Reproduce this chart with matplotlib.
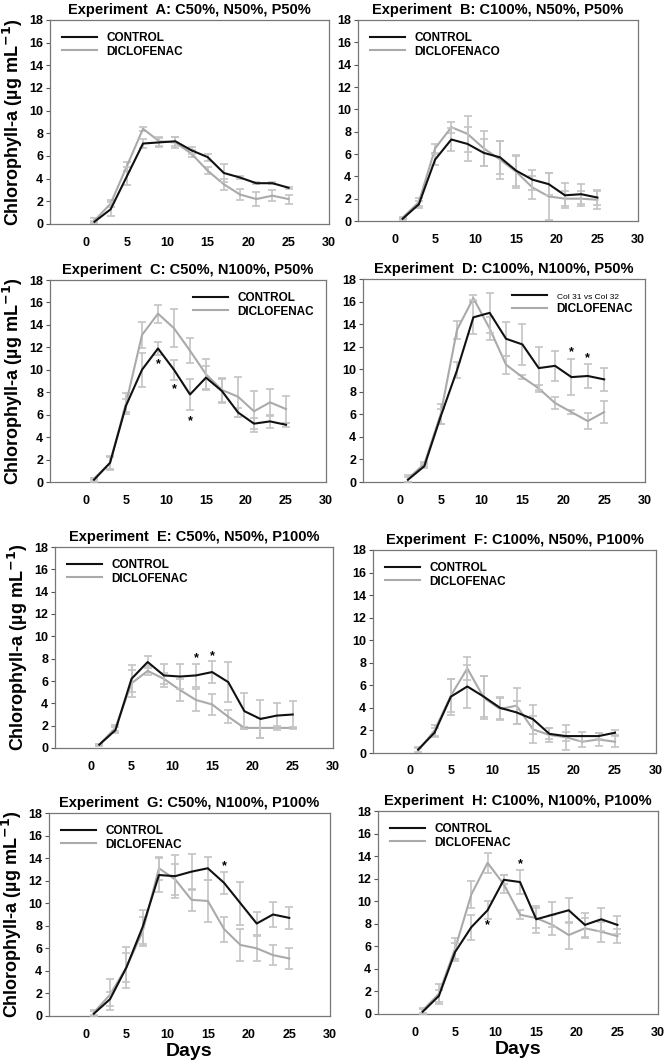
import numpy as np
import matplotlib.pyplot as plt
from matplotlib.lines import Line2D

plt.rcParams['font.family'] = ['Liberation Sans', 'DejaVu Sans']

# ---------------- data ----------------
days = [1, 3, 5, 7, 9, 11, 13, 15, 17, 19, 21, 23, 25]

titles = ['Experiment  A: C50%, N50%, P50%',
          'Experiment  B: C100%, N50%, P50%',
          'Experiment  C: C50%, N100%, P50%',
          'Experiment  D: C100%, N100%, P50%',
          'Experiment  E: C50%, N50%, P100%',
          'Experiment  F: C100%, N50%, P100%',
          'Experiment  G: C50%, N100%, P100%',
          'Experiment  H: C100%, N100%, P100%']

ctrl_labels = ['CONTROL'] * 3 + ['Col 31 vs Col 32'] + ['CONTROL'] * 4
dicl_labels = ['DICLOFENAC', 'DICLOFENACO'] + ['DICLOFENAC'] * 6

ctrl_A = [0.2, 1.3, 4.2, 7.1, 7.2, 7.3, 6.5, 5.9, 4.5, 4.1, 3.6, 3.6, 3.2]
ctrl_A_err = [0.1, 0.6, 0.8, 0.4, 0.4, 0.4, 0.3, 0.3, 0.8, 0.1, 0.1, 0.1, 0.1]
dicl_A = [0.3, 1.8, 5.1, 8.4, 7.3, 7.2, 6.2, 4.7, 3.5, 2.6, 2.2, 2.5, 2.2]
dicl_A_err = [0.2, 0.3, 0.4, 0.2, 0.4, 0.5, 0.3, 0.3, 0.5, 0.5, 0.6, 0.5, 0.4]

ctrl_B = [0.2, 1.5, 5.5, 7.3, 6.9, 6.1, 5.7, 4.5, 3.7, 3.3, 2.3, 2.4, 2.1]
ctrl_B_err = [0.1, 0.3, 0.5, 1.0, 1.5, 1.2, 1.5, 1.4, 0.9, 1.0, 1.1, 0.9, 0.7]
dicl_B = [0.3, 1.7, 6.5, 8.4, 7.8, 6.5, 5.5, 4.4, 3.0, 2.2, 2.0, 2.0, 1.9]
dicl_B_err = [0.1, 0.4, 0.4, 0.5, 1.6, 1.6, 1.7, 1.4, 1.0, 2.1, 0.7, 0.7, 0.8]

ctrl_C = [0.2, 1.7, 6.8, 10.0, 11.9, 10.0, 7.8, 9.3, 8.1, 6.2, 5.2, 5.4, 5.1]
ctrl_C_err = [0.2, 0.6, 0.6, 1.5, 0.6, 0.9, 1.4, 1.0, 1.1, 0.4, 0.5, 0.6, 0.2]
dicl_C = [0.3, 1.7, 7.0, 13.1, 15.0, 13.7, 11.7, 9.6, 8.2, 7.6, 6.3, 7.1, 6.5]
dicl_C_err = [0.1, 0.5, 0.9, 1.2, 0.8, 1.7, 1.1, 1.4, 1.1, 1.8, 1.8, 1.2, 1.2]

ctrl_D = [0.2, 1.4, 5.8, 9.9, 14.6, 15.0, 12.7, 12.2, 10.1, 10.3, 9.3, 9.4, 9.1]
ctrl_D_err = [0.2, 0.2, 0.7, 0.7, 1.5, 1.8, 1.5, 1.8, 1.9, 1.3, 1.6, 1.1, 1.0]
dicl_D = [0.3, 1.6, 6.0, 13.5, 16.3, 13.6, 10.4, 9.3, 8.3, 7.0, 6.2, 5.4, 6.2]
dicl_D_err = [0.3, 0.2, 0.9, 0.8, 0.3, 1.0, 0.8, 0.2, 0.3, 0.5, 0.2, 0.7, 1.0]

ctrl_E = [0.3, 1.6, 6.2, 7.7, 6.5, 6.4, 6.5, 6.8, 5.9, 3.3, 2.6, 2.9, 3.0]
ctrl_E_err = [0.1, 0.3, 1.2, 0.5, 1.0, 1.1, 1.0, 1.0, 1.8, 1.6, 1.7, 1.1, 1.2]
dicl_E = [0.3, 1.8, 5.8, 6.9, 6.2, 5.2, 4.3, 3.9, 2.8, 1.8, 1.8, 1.8, 1.8]
dicl_E_err = [0.1, 0.3, 1.2, 0.4, 0.5, 1.0, 1.0, 0.9, 0.6, 0.1, 0.9, 0.2, 0.1]

ctrl_F = [0.3, 1.8, 5.0, 5.9, 5.0, 4.0, 3.6, 3.0, 1.7, 1.5, 1.5, 1.5, 1.8]
ctrl_F_err = [0.2, 0.4, 1.6, 1.9, 1.8, 1.0, 1.0, 1.3, 0.5, 0.4, 0.4, 0.3, 0.2]
dicl_F = [0.2, 2.0, 5.1, 7.5, 4.9, 3.9, 4.2, 2.1, 1.6, 1.4, 1.0, 1.2, 1.0]
dicl_F_err = [0.2, 0.5, 1.5, 1.0, 1.9, 1.0, 1.6, 1.2, 0.6, 1.1, 0.5, 0.6, 0.5]

ctrl_G = [0.2, 1.5, 4.3, 7.9, 12.5, 12.4, 12.8, 13.1, 11.8, 10.0, 8.2, 9.0, 8.7]
ctrl_G_err = [0.2, 0.6, 1.3, 1.5, 1.5, 1.9, 1.6, 1.0, 1.0, 1.9, 1.0, 1.1, 1.0]
dicl_G = [0.3, 1.9, 4.3, 7.5, 13.1, 12.1, 10.3, 10.2, 7.7, 6.3, 6.0, 5.4, 5.1]
dicl_G_err = [0.2, 1.4, 1.8, 1.3, 1.0, 1.4, 1.0, 1.9, 1.1, 1.4, 1.1, 0.9, 0.9]

ctrl_H = [0.2, 1.6, 5.5, 7.7, 9.2, 11.9, 11.7, 8.4, 8.8, 9.2, 7.9, 8.4, 7.9]
ctrl_H_err = [0.2, 0.5, 0.8, 1.1, 0.8, 0.4, 1.1, 1.2, 1.1, 1.1, 1.1, 1.0, 0.8]
dicl_H = [0.3, 1.8, 5.8, 10.6, 13.4, 11.5, 8.8, 8.5, 7.9, 7.0, 7.6, 7.3, 6.9]
dicl_H_err = [0.2, 0.9, 0.9, 1.2, 0.9, 0.8, 0.4, 0.9, 0.9, 1.2, 0.9, 0.9, 0.6]

ctrl = [ctrl_A, ctrl_B, ctrl_C, ctrl_D, ctrl_E, ctrl_F, ctrl_G, ctrl_H]
ctrl_err = [ctrl_A_err, ctrl_B_err, ctrl_C_err, ctrl_D_err,
            ctrl_E_err, ctrl_F_err, ctrl_G_err, ctrl_H_err]
dicl = [dicl_A, dicl_B, dicl_C, dicl_D, dicl_E, dicl_F, dicl_G, dicl_H]
dicl_err = [dicl_A_err, dicl_B_err, dicl_C_err, dicl_D_err,
            dicl_E_err, dicl_F_err, dicl_G_err, dicl_H_err]

# significance marks (day, y)
stars = [[], [], [(9, 10.5), (11, 8.3), (13, 5.4)], [(21, 11.5), (23, 11.0)],
         [(13, 8.0), (15, 8.2)], [], [(17, 13.3)], [(9, 7.9), (13, 13.3)]]

# axes boxes in pixels: left, top, right, bottom
boxes = [(50, 20, 329, 224), (358, 20, 638, 221),
         (50, 280, 326, 482), (363, 279, 645, 482),
         (55, 547, 333, 748), (373, 550, 656, 753),
         (49, 813, 330, 1016), (378, 811, 658, 1014)]

W, H = 664, 1062
fig = plt.figure(figsize=(W / 100, H / 100), dpi=100)

black = '#111111'
grey = '#aaaaaa'
errc = '#c4c4c4'

for i in range(8):
    l, t, r, b = boxes[i]
    ax = fig.add_axes([l / W, 1 - b / H, (r - l) / W, (b - t) / H])

    ax.errorbar(days, ctrl[i], yerr=ctrl_err[i], color=black, lw=1.5,
                ecolor=errc, elinewidth=1.2, capsize=3, capthick=1.2,
                zorder=3)
    ax.errorbar(days, dicl[i], yerr=dicl_err[i], color=grey, lw=1.5,
                ecolor=errc, elinewidth=1.2, capsize=3, capthick=1.2,
                zorder=2)
    for (sx, sy) in stars[i]:
        ax.text(sx, sy, '*', ha='center', va='center', fontsize=9,
                fontweight='bold')

    ax.set_xlim(-4.5, 30)
    ax.set_ylim(0, 18)
    ax.set_xticks([0, 5, 10, 15, 20, 25, 30])
    ax.set_yticks(np.arange(0, 19, 2))
    ax.tick_params(axis='x', length=0, pad=9, labelsize=9)
    ax.tick_params(axis='y', length=3, width=0.8, pad=2, labelsize=9,
                   color='#555555')
    for lab in ax.get_xticklabels() + ax.get_yticklabels():
        lab.set_fontweight('bold')
    for sp in ax.spines.values():
        sp.set_color('#777777')
        sp.set_linewidth(0.9)

    ax.set_title(titles[i], fontsize=10.5, fontweight='bold', pad=4)

    handles = [Line2D([], [], color=black, lw=1.5),
               Line2D([], [], color=grey, lw=1.5)]
    loc = 'upper right' if i in (2, 3) else 'upper left'
    leg = ax.legend(handles, [ctrl_labels[i], dicl_labels[i]], loc=loc,
                    frameon=False, fontsize=8.5, handlelength=3,
                    handletextpad=0.8, labelspacing=0.15, borderaxespad=0.6)
    for txt in leg.get_texts():
        txt.set_fontweight('bold')
    if i == 3:
        leg.get_texts()[0].set_fontsize(6)
        leg.get_texts()[0].set_fontweight('normal')

    if i % 2 == 0:
        ax.set_ylabel('Chlorophyll-a (µg mL$^{\\mathbf{-1}}$)', fontsize=13,
                      fontweight='bold', labelpad=3)
    if i >= 6:
        ax.set_xlabel('Days', fontsize=14, fontweight='bold', labelpad=2)

fig.savefig('out.png', dpi=100)
